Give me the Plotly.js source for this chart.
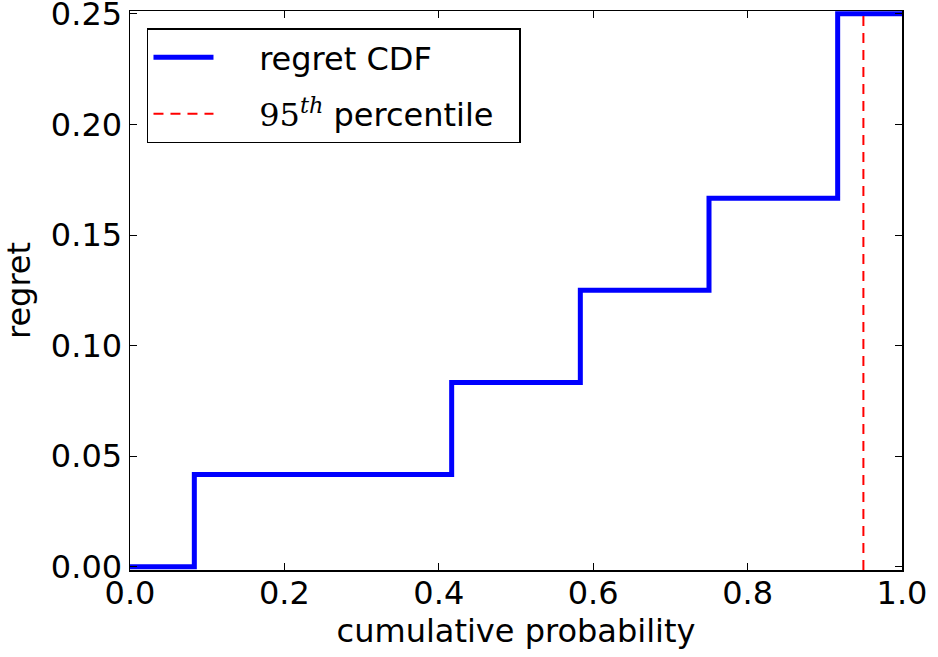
<!DOCTYPE html>
<html>
<head>
<meta charset="utf-8">
<script src="https://cdn.plot.ly/plotly-3.0.1.min.js"></script>
<style>html,body{margin:0;padding:0;background:#fff;}#chart{width:938px;height:657px;}</style>
</head>
<body>
<div id="chart"></div>
<script>
// cumulative probability (step edges) and regret values
const cumProb = [0, 1/12, 5/12, 7/12, 9/12, 11/12, 1];
const regret = [0, 1/24, 2/24, 3/24, 4/24, 6/24, 6/24];
const percentile95 = [0.95];
const xTicks = [0, 0.2, 0.4, 0.6, 0.8, 1.0];
const yTicks = [0, 0.05, 0.10, 0.15, 0.20, 0.25];
const yRange = [-0.0015, 0.2513];
const seriesNames = ['regret CDF', "<span style='font-family:DejaVu Serif'>95<sup><i>th</i></sup></span> percentile"];

const font = 'DejaVu Sans, sans-serif';
const pad = '&nbsp;&nbsp;&nbsp;&nbsp;';

const traces = [
  {
    x: cumProb, y: regret, type: 'scatter', mode: 'lines',
    line: {shape: 'hv', color: '#0000ff', width: 5},
    name: pad + seriesNames[0], legendgroup: 'a'
  },
  {
    x: [percentile95[0], percentile95[0]], y: yRange, type: 'scatter', mode: 'lines',
    line: {color: '#ff0000', width: 2, dash: '10px,7px'},
    name: pad + seriesNames[1] + '&nbsp;&nbsp;',
    legendgroup: 'b'
  }
];

const axisCommon = {
  showline: true, linecolor: '#000', linewidth: 1.5, mirror: 'allticks',
  ticks: 'inside', ticklen: 7, tickwidth: 1, tickcolor: '#000',
  showgrid: false, zeroline: false, ticklabeloverflow: 'allow',
  tickfont: {family: font, size: 32, color: '#000'}
};

const layout = {
  width: 938, height: 657,
  margin: {l: 130, r: 36, t: 10.5, b: 87},
  paper_bgcolor: '#fff', plot_bgcolor: '#fff',
  showlegend: true,
  legend: {
    x: 0.022, y: 0.969, xanchor: 'left', yanchor: 'top',
    bordercolor: '#000', borderwidth: 1.5, bgcolor: '#fff',
    font: {family: font, size: 32, color: '#000'},
    traceorder: 'grouped', tracegroupgap: 12, itemwidth: 60
  },
  xaxis: Object.assign({}, axisCommon, {
    range: [0, 1], tickvals: xTicks, tickformat: '.1f', ticklabelstandoff: -6,
    title: {text: 'cumulative probability', font: {family: font, size: 32, color: '#000'}, standoff: 4}
  }),
  yaxis: Object.assign({}, axisCommon, {
    range: yRange, tickvals: yTicks, tickformat: '.2f',
    title: {text: 'regret', font: {family: font, size: 32, color: '#000'}, standoff: 14}
  })
};

Plotly.newPlot('chart', traces, layout, {displayModeBar: false, staticPlot: true});
</script>
</body>
</html>
